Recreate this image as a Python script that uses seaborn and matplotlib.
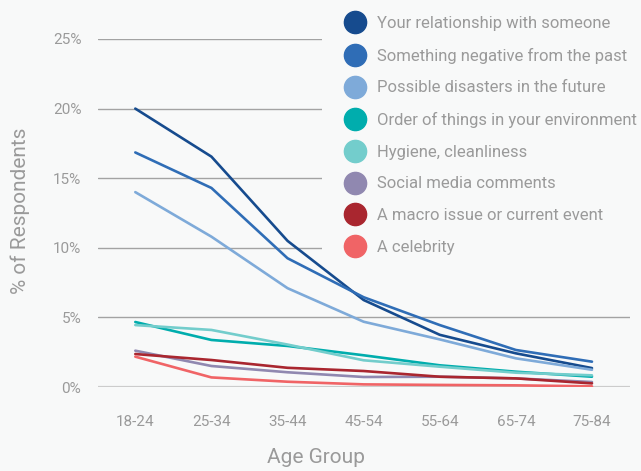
import matplotlib
matplotlib.use("Agg")
import matplotlib.pyplot as plt
from matplotlib.lines import Line2D
from matplotlib.patches import Rectangle
import seaborn as sns
import pandas as pd

# Age groups on the x axis
age_groups = ["18-24", "25-34", "35-44", "45-54", "55-64", "65-74", "75-84"]

# Share of respondents (%) per age group for each worry
relationship = [20.0, 16.55, 10.5, 6.25, 3.75, 2.42, 1.36]
negative_past = [16.85, 14.3, 9.25, 6.45, 4.45, 2.66, 1.82]
future_disasters = [14.0, 10.8, 7.1, 4.69, 3.42, 2.06, 1.24]
order_of_things = [4.67, 3.38, 2.95, 2.28, 1.56, 1.1, 0.74]
hygiene = [4.45, 4.1, 3.05, 1.92, 1.46, 1.03, 0.84]
social_media = [2.61, 1.51, 1.06, 0.72, 0.74, 0.62, 0.36]
macro_issue = [2.37, 1.94, 1.38, 1.15, 0.74, 0.62, 0.26]
celebrity = [2.18, 0.69, 0.38, 0.19, 0.15, 0.12, 0.05]

series_names = [
    "Your relationship with someone",
    "Something negative from the past",
    "Possible disasters in the future",
    "Order of things in your environment",
    "Hygiene, cleanliness",
    "Social media comments",
    "A macro issue or current event",
    "A celebrity",
]
series_values = [relationship, negative_past, future_disasters, order_of_things,
                 hygiene, social_media, macro_issue, celebrity]
colors = ["#164b8e", "#2f6db6", "#7eaad9", "#00adad",
          "#73cdcc", "#9088b0", "#a9262f", "#f06466"]

yticks = [0, 5, 10, 15, 20, 25]
ytick_labels = ["0%", "5%", "10%", "15%", "20%", "25%"]

rows = []
for name, vals in zip(series_names, series_values):
    for i, (age, v) in enumerate(zip(age_groups, vals)):
        rows.append({"idx": i, "age": age, "worry": name, "pct": v})
df = pd.DataFrame(rows)

bg = "#f8f9f9"
text_gray = "#9a9a9a"

sns.set_style("white")
plt.rcParams["font.family"] = ["Roboto", "DejaVu Sans"]

fig = plt.figure(figsize=(6.41, 4.71), dpi=100, facecolor=bg)
ax = fig.add_axes([0.1529, 0.1783, 0.8300, 0.7389], facecolor=bg)

sns.lineplot(data=df, x="idx", y="pct", hue="worry", hue_order=series_names,
             palette=colors, linewidth=1.9, ax=ax, legend=False, zorder=3)

ax.set_xlim(-0.49, 6.5)
ax.set_ylim(0, 25)
ax.set_xticks(range(len(age_groups)))
ax.set_xticklabels(age_groups)
ax.set_yticks(yticks)
ax.set_yticklabels(ytick_labels)
ax.tick_params(axis="both", length=0, labelsize=11, labelcolor=text_gray)
ax.tick_params(axis="x", pad=20)
ax.tick_params(axis="y", pad=12)

for s in ax.spines.values():
    s.set_visible(False)

# horizontal grid lines; the baseline is lighter and a bit heavier
for t in yticks:
    if t == 0:
        ax.axhline(t, color="#cccccc", linewidth=1.6, zorder=1)
    else:
        ax.axhline(t, color="#a3a3a3", linewidth=1.0, zorder=1)

# panel behind the legend that hides the upper grid lines
ax.add_patch(Rectangle((0.421, 0.37), 0.6, 0.8, transform=ax.transAxes,
                       facecolor=bg, edgecolor="none", zorder=2,
                       clip_on=False))

ax.set_xlabel("Age Group", fontsize=15, color=text_gray)
ax.set_ylabel("% of Respondents", fontsize=15, color=text_gray)
ax.xaxis.set_label_coords(0.41, -0.176)
ax.yaxis.set_label_coords(-0.128, 0.506)

handles = [Line2D([], [], linestyle="", marker="o", markersize=16,
                  markerfacecolor=c, markeredgecolor=c) for c in colors]
leg = ax.legend(handles, series_names, loc="upper left",
                bbox_to_anchor=(0.4557, 1.085), frameon=False, fontsize=12,
                labelcolor=text_gray, handlelength=1.0, handletextpad=0.8,
                labelspacing=1.0, borderpad=0.4, borderaxespad=0)
leg.set_zorder(5)

fig.savefig("out.png", dpi=100, facecolor=bg)
